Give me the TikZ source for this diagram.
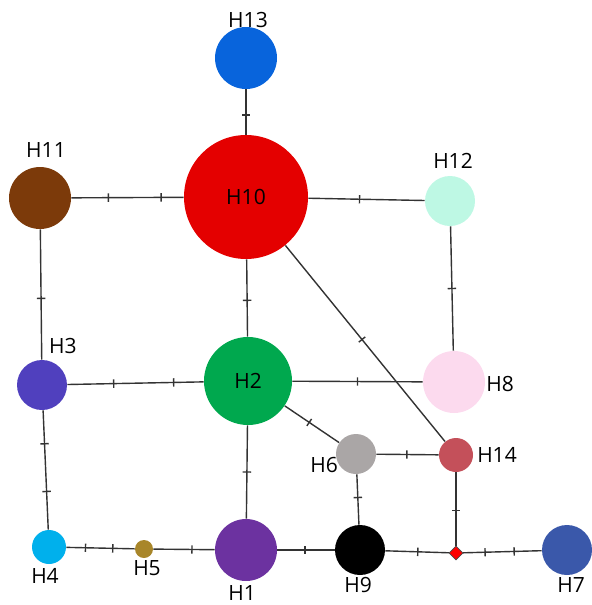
\documentclass[tikz,border=0pt]{standalone}
\usepackage{fontspec}
\setmainfont{Open Sans}
\usetikzlibrary{shapes.geometric}

\definecolor{cH1}{RGB}{108,50,160}
\definecolor{cH2}{RGB}{0,168,78}
\definecolor{cH3}{RGB}{80,64,190}
\definecolor{cH4}{RGB}{0,176,236}
\definecolor{cH5}{RGB}{168,134,42}
\definecolor{cH6}{RGB}{170,166,166}
\definecolor{cH7}{RGB}{58,88,170}
\definecolor{cH8}{RGB}{252,218,238}
\definecolor{cH9}{RGB}{0,0,0}
\definecolor{cH10}{RGB}{228,0,0}
\definecolor{cH11}{RGB}{124,58,10}
\definecolor{cH12}{RGB}{190,248,228}
\definecolor{cH13}{RGB}{8,100,220}
\definecolor{cH14}{RGB}{196,80,90}

\begin{document}
\begin{tikzpicture}[x=0.5pt, y=-0.5pt,
    hap/.style={circle, draw=none, inner sep=0pt, font=\fontsize{10.5}{12}\selectfont},
    link/.style={draw=black!80, line width=0.7pt},
    mut/.style={sloped, fill=black!80, inner sep=0pt, minimum width=0.7pt, minimum height=4.2pt},
    lab/.style={inner sep=0pt, font=\fontsize{10.5}{12}\selectfont}]

  \useasboundingbox (0,0) rectangle (591,605);

  \node[hap, fill=cH13, minimum size=31pt] (H13) at (246,58) {};
  \node[hap, fill=cH10, minimum size=62pt] (H10) at (246,197) {H10};
  \node[hap, fill=cH11, minimum size=31pt] (H11) at (40,198) {};
  \node[hap, fill=cH12, minimum size=25pt] (H12) at (450,201) {};
  \node[hap, fill=cH3, minimum size=25pt] (H3) at (42,385) {};
  \node[hap, fill=cH2, minimum size=44pt] (H2) at (248,381) {H2};
  \node[hap, fill=cH8, minimum size=31pt] (H8) at (454,382) {};
  \node[hap, fill=cH6, minimum size=20pt] (H6) at (356,454) {};
  \node[hap, fill=cH14, minimum size=17pt] (H14) at (456,455) {};
  \node[hap, fill=cH4, minimum size=17pt] (H4) at (49,547) {};
  \node[hap, fill=cH5, minimum size=9pt] (H5) at (144,549) {};
  \node[hap, fill=cH1, minimum size=31pt] (H1) at (246,550) {};
  \node[hap, fill=cH9, minimum size=25pt] (H9) at (360,550) {};
  \node[hap, fill=cH7, minimum size=25pt] (H7) at (567,550) {};
  \node[diamond, fill=red, draw=black!70, line width=0.3pt, inner sep=0pt, minimum size=7pt] (mv) at (456,553) {};

  \node[lab] (lH13) at (248,20) {H13};
  \node[lab] (lH11) at (46,150) {H11};
  \node[lab] (lH12) at (453,161) {H12};
  \node[lab] (lH3) at (63,346) {H3};
  \node[lab] (lH8) at (500,384) {H8};
  \node[lab] (lH6) at (324,465) {H6};
  \node[lab] (lH14) at (497,455) {H14};
  \node[lab] (lH4) at (45,576) {H4};
  \node[lab] (lH5) at (147,568) {H5};
  \node[lab] (lH1) at (242,593) {H1};
  \node[lab] (lH9) at (358,585) {H9};
  \node[lab] (lH7) at (571,585) {H7};

  \draw[link] (H13) -- node[mut, pos=0.57] {} (H10);
  \draw[link] (H11) -- node[mut, pos=0.33] {} node[mut, pos=0.80] {} (H10);
  \draw[link] (H10) -- node[mut, pos=0.44] {} (H12);
  \draw[link] (H12) -- node[mut, pos=0.50] {} (H8);
  \draw[link] (H11) -- node[mut, pos=0.53] {} (H3);
  \draw[link] (H10) -- node[mut, pos=0.53] {} (H2);
  \draw[link] (H10) -- node[mut, pos=0.48] {} (H14);
  \draw[link] (H3) -- node[mut, pos=0.34] {} node[mut, pos=0.78] {} (H2);
  \draw[link] (H2) -- node[mut, pos=0.50] {} (H8);
  \draw[link] (H2) -- node[mut, pos=0.45] {} (H6);
  \draw[link] (H2) -- node[mut, pos=0.50] {} (H1);
  \draw[link] (H6) -- node[mut, pos=0.49] {} (H14);
  \draw[link] (H6) -- node[mut, pos=0.46] {} (H9);
  \draw[link] (H14) -- node[mut, pos=0.52] {} (mv);
  \draw[link] (H3) -- node[mut, pos=0.28] {} node[mut, pos=0.68] {} (H4);
  \draw[link] (H4) -- node[mut, pos=0.28] {} node[mut, pos=0.68] {} (H5);
  \draw[link] (H5) -- node[mut, pos=0.63] {} (H1);
  \draw[link] (H1) -- node[mut, pos=0.48] {} (H9);
  \draw[link] (H9) -- node[mut, pos=0.51] {} (mv);
  \draw[link] (mv) -- node[mut, pos=0.28] {} node[mut, pos=0.65] {} (H7);
\end{tikzpicture}
\end{document}
